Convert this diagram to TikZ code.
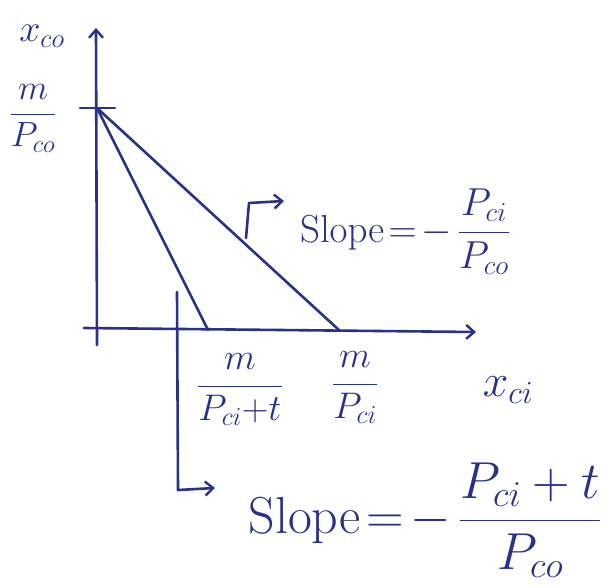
\RequirePackage{fix-cm}
\documentclass[tikz,border=0pt]{standalone}
\usetikzlibrary{arrows.meta}
\definecolor{ink}{RGB}{40,50,138}
\begin{document}
\begin{tikzpicture}[x=1pt,y=-1pt, line width=2.6pt, draw=ink, line cap=round, line join=round,
  lbl/.style={text=ink, inner sep=0pt},
  arr/.style={-{Straight Barb[length=8pt,width=14pt,line width=2.4pt]}}]
\useasboundingbox[fill=white] (0,0) rectangle (612,586);
% axes
\coordinate (ybot) at (97,345);
\coordinate (ytop) at (96,28);
\coordinate (xstart) at (84,328);
\coordinate (xend) at (476,332);
\coordinate (tickL) at (80,108);
\coordinate (tickR) at (115,108);
\coordinate (A) at (97,108);
\coordinate (B) at (208,330);
\coordinate (C) at (340,331);
\draw[arr] (ybot) -- (ytop);
\draw[arr] (xstart) -- (xend);
\draw (tickL) -- (tickR);
\draw (A) -- (C);
\draw (A) -- (B);
% labels
\node[lbl, font=\fontsize{38}{38}\selectfont] (xco) at (42,36) {$x_{co}$};
\node[lbl, font=\fontsize{46}{46}\selectfont] (xci) at (508,390) {$x_{ci}$};
\node[lbl, font=\fontsize{35}{35}\selectfont] (mpco) at (33,118) {$\displaystyle\frac{m}{P_{co}}$};
\node[lbl, font=\fontsize{37}{37}\selectfont] (mpct) at (240,390) {$\displaystyle\frac{m}{P_{ci}{+}t}$};
\node[lbl, font=\fontsize{37}{37}\selectfont] (mpci) at (355,388) {$\displaystyle\frac{m}{P_{ci}}$};
\node[lbl, font=\fontsize{39}{39}\selectfont] (slope1) at (405,232) {$\mathrm{Slope}\!=\!-\,\displaystyle\frac{P_{ci}}{P_{co}}$};
\node[lbl, font=\fontsize{52}{52}\selectfont] (slope2) at (425,520) {$\mathrm{Slope}\!=\!-\,\displaystyle\frac{P_{ci}+t}{P_{co}}$};
% pointer arrows
\coordinate (p1s) at (246,238);
\coordinate (p1c) at (249,203);
\coordinate (p1e) at (284,201);
\draw[arr] (p1s) -- (p1c) -- (p1e);
\coordinate (p2s) at (177,292);
\coordinate (p2c) at (178,490);
\coordinate (p2e) at (215,488);
\draw[arr] (p2s) -- (p2c) -- (p2e);
\end{tikzpicture}
\end{document}
